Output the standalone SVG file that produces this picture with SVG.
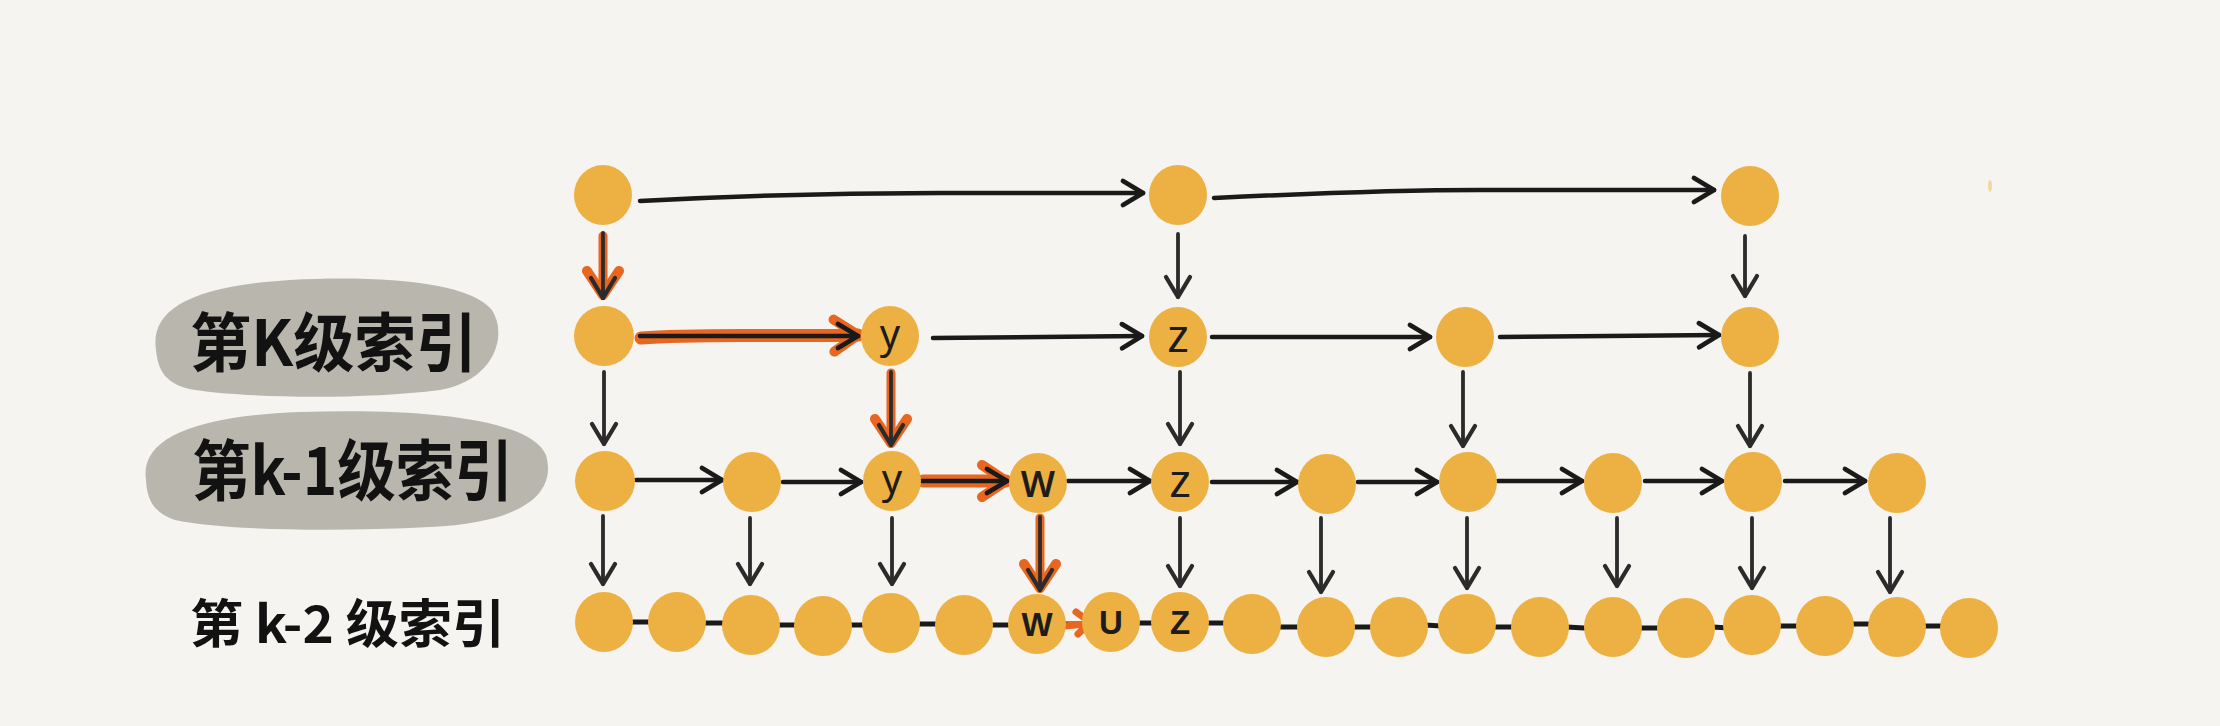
<svg xmlns="http://www.w3.org/2000/svg" width="2220" height="726" viewBox="0 0 2220 726">
<style>
.bg{fill:#f5f4f0}
.node{fill:#ecb142}
.blob{fill:#b9b6ae}
.hand{font-family:"Noto Sans","DejaVu Sans",sans-serif;fill:#1c1c1c;text-anchor:middle}
.cap{font-family:"Liberation Sans",Arial,sans-serif;font-weight:bold;font-size:33px;fill:#1c1c1c;text-anchor:middle}
.title{font-family:"Noto Sans CJK SC","Noto Sans CJK TC",sans-serif;font-weight:700;fill:#121212}
.e{fill:none;stroke:#1a1a1a;stroke-width:4.5;stroke-linecap:round;marker-end:url(#ah)}
.v{fill:none;stroke:#2b2b2b;stroke-width:3.8;stroke-linecap:round;marker-end:url(#ahv)}
.o{fill:none;stroke:#e8661f;stroke-width:13;stroke-linecap:round;marker-end:url(#aho)}
.ov{fill:none;stroke:#e8661f;stroke-width:9;stroke-linecap:round;marker-end:url(#aho)}
.d{stroke:#1a1a1a;stroke-width:5;stroke-linecap:round}
</style>
<defs>
<marker id="ah" markerUnits="userSpaceOnUse" markerWidth="32" markerHeight="32" viewBox="0 0 32 32" refX="27" refY="16" orient="auto">
<path d="M7,4 L27,16 L7,28" fill="none" stroke="#1a1a1a" stroke-width="4.8" stroke-linecap="round" stroke-linejoin="round"/>
</marker>
<marker id="ahv" markerUnits="userSpaceOnUse" markerWidth="32" markerHeight="32" viewBox="0 0 32 32" refX="27" refY="16" orient="auto">
<path d="M7,4 L27,16 L7,28" fill="none" stroke="#2b2b2b" stroke-width="4.3" stroke-linecap="round" stroke-linejoin="round"/>
</marker>
<marker id="aho" markerUnits="userSpaceOnUse" markerWidth="44" markerHeight="44" viewBox="0 0 44 44" refX="34" refY="22" orient="auto">
<path d="M10,6 L34,22 L10,38" fill="none" stroke="#e8661f" stroke-width="10" stroke-linecap="round" stroke-linejoin="round"/>
</marker>
</defs>
<rect class="bg" x="0" y="0" width="2220" height="726"/>
<ellipse cx="1990" cy="186" rx="2" ry="6" fill="#f0c468" opacity="0.6"/>

<g id="label-k">
<path class="blob" d="M156,350 C150,310 190,286 290,280 C380,275 470,282 492,310 C508,335 495,380 440,390 C360,400 250,398 195,390 C165,385 158,370 156,350 Z"/>
<text class="title" x="190" y="366" font-size="64" textLength="287" lengthAdjust="spacingAndGlyphs">第K级索引</text>
</g>
<g id="label-k1">
<path class="blob" d="M146,480 C140,440 190,416 300,412 C420,408 530,418 546,455 C556,490 530,522 430,527 C330,532 220,530 175,520 C152,512 147,498 146,480 Z"/>
<text class="title" x="192" y="495" font-size="66" textLength="321" lengthAdjust="spacingAndGlyphs">第k-1级索引</text>
</g>
<g id="label-k2">
<text class="title" x="190" y="643" font-size="52" textLength="315" lengthAdjust="spacingAndGlyphs">第 k-2 级索引</text>
</g>

<g id="connectors">
<path class="e" d="M640,201 Q790,193 940,193 L1143,193"/>
<path class="e" d="M1214,198 Q1380,190 1480,190 L1714,190"/>
<path class="ov" d="M603,236 L603,295" stroke-width="8"/>
<path class="v" d="M603,233 L603,298"/>
<path class="v" d="M1178,234 L1178,297"/>
<path class="v" d="M1745,236 L1745,296"/>
<path class="o" d="M641,338 C700,333 780,337 858,335"/>
<path class="e" d="M640,336 L858,336"/>
<path class="e" d="M933,338 L1142,336"/>
<path class="e" d="M1212,337 L1430,337"/>
<path class="e" d="M1500,337 L1719,335"/>
<path class="v" d="M604,372 L604,444"/>
<path class="ov" d="M891,373 L891,443"/>
<path class="v" d="M891,372 L891,445"/>
<path class="v" d="M1180,372 L1180,444"/>
<path class="v" d="M1463,372 L1463,446"/>
<path class="v" d="M1750,373 L1750,446"/>
<path class="e" d="M636,480 L722,480"/>
<path class="e" d="M783,482 L861,482"/>
<path class="o" d="M923,481 L1006,481"/>
<path class="e" d="M922,481 L1007,481"/>
<path class="e" d="M1068,481 L1150,481"/>
<path class="e" d="M1212,482 L1297,482"/>
<path class="e" d="M1358,482 L1437,482"/>
<path class="e" d="M1498,481 L1582,481"/>
<path class="e" d="M1645,481 L1722,481"/>
<path class="e" d="M1785,481 L1865,481"/>
<path class="v" d="M603,516 L603,584"/>
<path class="v" d="M750,518 L750,584"/>
<path class="v" d="M892,518 L892,584"/>
<path class="ov" d="M1040,518 L1040,588"/>
<path class="v" d="M1040,517 L1040,590"/>
<path class="v" d="M1180,518 L1180,586"/>
<path class="v" d="M1321,518 L1321,592"/>
<path class="v" d="M1467,518 L1467,588"/>
<path class="v" d="M1617,518 L1617,586"/>
<path class="v" d="M1752,518 L1752,588"/>
<path class="v" d="M1890,518 L1890,592"/>
<line class="d" x1="632" y1="622" x2="649" y2="622"/>
<line class="d" x1="705" y1="623" x2="722" y2="623"/>
<line class="d" x1="778" y1="625" x2="795" y2="625"/>
<line class="d" x1="849" y1="625" x2="866" y2="625"/>
<line class="d" x1="919" y1="624" x2="936" y2="624"/>
<line class="d" x1="992" y1="625" x2="1009" y2="625"/>
<line class="d" x1="1066" y1="624" x2="1082" y2="624"/>
<line class="d" x1="1138" y1="623" x2="1153" y2="623"/>
<line class="d" x1="1207" y1="623" x2="1224" y2="623"/>
<line class="d" x1="1280" y1="627" x2="1297" y2="627"/>
<line class="d" x1="1354" y1="627" x2="1371" y2="627"/>
<line class="d" x1="1425" y1="625" x2="1441" y2="626"/>
<line class="d" x1="1495" y1="627" x2="1512" y2="627"/>
<line class="d" x1="1567" y1="627" x2="1584" y2="628"/>
<line class="d" x1="1640" y1="628" x2="1657" y2="628"/>
<line class="d" x1="1712" y1="627" x2="1729" y2="628"/>
<line class="d" x1="1780" y1="626" x2="1797" y2="626"/>
<line class="d" x1="1853" y1="624" x2="1869" y2="624"/>
<line class="d" x1="1925" y1="626" x2="1941" y2="626"/>
<path fill="none" stroke="#e8661f" stroke-width="7" stroke-linecap="round" d="M1064,626 L1086,624"/>
<path fill="none" stroke="#e8661f" stroke-width="7" stroke-linecap="round" stroke-linejoin="round" d="M1076,612 L1090,622 L1078,634"/>
</g>

<g id="top-0"><ellipse class="node" cx="603" cy="195" rx="29" ry="30"/></g>
<g id="top-1"><ellipse class="node" cx="1178" cy="195" rx="29" ry="30"/></g>
<g id="top-2"><ellipse class="node" cx="1750" cy="196" rx="29" ry="30"/></g>

<g id="k-0"><ellipse class="node" cx="604" cy="336" rx="30" ry="30"/></g>
<g id="k-1"><ellipse class="node" cx="890" cy="336" rx="29" ry="30"/><text class="hand" x="890" y="348" font-size="40">y</text></g>
<g id="k-2"><ellipse class="node" cx="1178" cy="337" rx="29" ry="30"/><text class="hand" x="1178" y="352" font-size="46">z</text></g>
<g id="k-3"><ellipse class="node" cx="1465" cy="337" rx="29" ry="30"/></g>
<g id="k-4"><ellipse class="node" cx="1750" cy="337" rx="29" ry="30"/></g>

<g id="k1-0"><ellipse class="node" cx="605" cy="481" rx="30" ry="30"/></g>
<g id="k1-1"><ellipse class="node" cx="752" cy="482" rx="29" ry="30"/></g>
<g id="k1-2"><ellipse class="node" cx="892" cy="481" rx="29" ry="30"/><text class="hand" x="892" y="493" font-size="40">y</text></g>
<g id="k1-3"><ellipse class="node" cx="1038" cy="483" rx="29" ry="30"/><text class="hand" x="1038" y="497" font-size="36" font-weight="600">W</text></g>
<g id="k1-4"><ellipse class="node" cx="1180" cy="482" rx="29" ry="30"/><text class="hand" x="1180" y="497" font-size="46">z</text></g>
<g id="k1-5"><ellipse class="node" cx="1327" cy="484" rx="29" ry="30"/></g>
<g id="k1-6"><ellipse class="node" cx="1468" cy="482" rx="29" ry="30"/></g>
<g id="k1-7"><ellipse class="node" cx="1613" cy="483" rx="29" ry="30"/></g>
<g id="k1-8"><ellipse class="node" cx="1753" cy="482" rx="29" ry="30"/></g>
<g id="k1-9"><ellipse class="node" cx="1897" cy="483" rx="29" ry="30"/></g>

<g id="k2-0"><ellipse class="node" cx="604" cy="622" rx="29" ry="30"/></g>
<g id="k2-1"><ellipse class="node" cx="677" cy="622" rx="29" ry="30"/></g>
<g id="k2-2"><ellipse class="node" cx="751" cy="625" rx="29" ry="30"/></g>
<g id="k2-3"><ellipse class="node" cx="823" cy="626" rx="29" ry="30"/></g>
<g id="k2-4"><ellipse class="node" cx="891" cy="623" rx="29" ry="30"/></g>
<g id="k2-5"><ellipse class="node" cx="964" cy="625" rx="29" ry="30"/></g>
<g id="k2-6"><ellipse class="node" cx="1037" cy="624" rx="29" ry="30"/><text class="cap" x="1037" y="636">W</text></g>
<g id="k2-7"><ellipse class="node" cx="1111" cy="622" rx="29" ry="30"/><text class="cap" x="1111" y="634">U</text></g>
<g id="k2-8"><ellipse class="node" cx="1180" cy="622" rx="29" ry="30"/><text class="cap" x="1180" y="634">Z</text></g>
<g id="k2-9"><ellipse class="node" cx="1252" cy="624" rx="29" ry="30"/></g>
<g id="k2-10"><ellipse class="node" cx="1326" cy="627" rx="29" ry="30"/></g>
<g id="k2-11"><ellipse class="node" cx="1399" cy="627" rx="29" ry="30"/></g>
<g id="k2-12"><ellipse class="node" cx="1467" cy="624" rx="29" ry="30"/></g>
<g id="k2-13"><ellipse class="node" cx="1540" cy="627" rx="29" ry="30"/></g>
<g id="k2-14"><ellipse class="node" cx="1613" cy="627" rx="29" ry="30"/></g>
<g id="k2-15"><ellipse class="node" cx="1686" cy="628" rx="29" ry="30"/></g>
<g id="k2-16"><ellipse class="node" cx="1752" cy="625" rx="29" ry="30"/></g>
<g id="k2-17"><ellipse class="node" cx="1825" cy="626" rx="29" ry="30"/></g>
<g id="k2-18"><ellipse class="node" cx="1897" cy="627" rx="29" ry="30"/></g>
<g id="k2-19"><ellipse class="node" cx="1969" cy="628" rx="29" ry="30"/></g>
</svg>
